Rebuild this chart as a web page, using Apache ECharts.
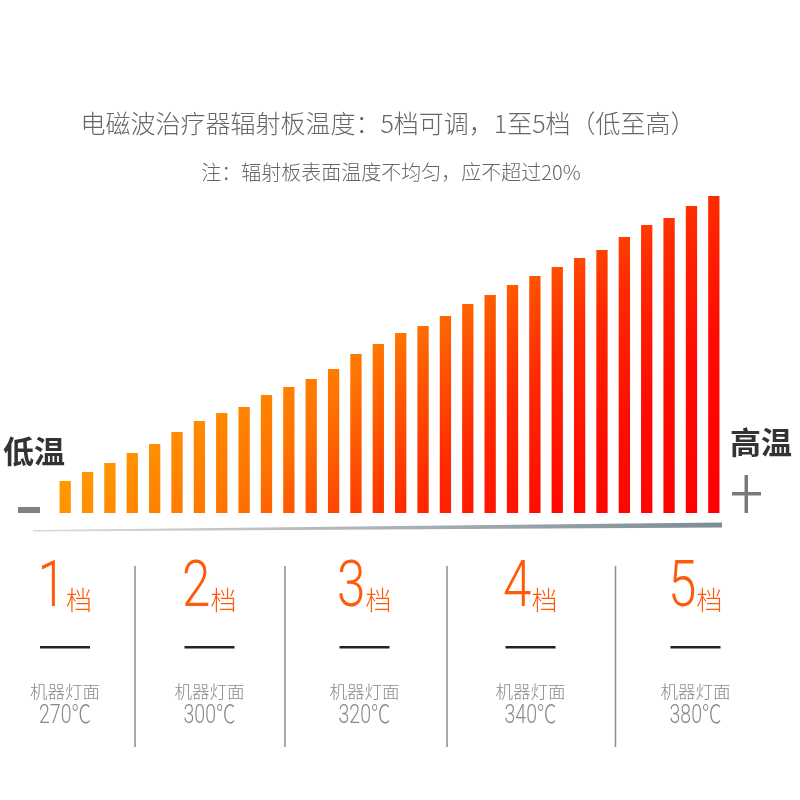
<!DOCTYPE html>
<html>
<head>
<meta charset="utf-8">
<script src="https://cdn.jsdelivr.net/npm/echarts@6/dist/echarts.min.js"></script>
<style>html,body{margin:0;padding:0;background:#fff;}#c{width:800px;height:800px;}</style>
</head>
<body>
<div id="c"></div>
<script>
const categories = ['1','2','3','4','5','6','7','8','9','10','11','12','13','14','15','16','17','18','19','20','21','22','23','24','25','26','27','28','29','30'];
const barValues = [32,41,50,60,69,81,92,100,106,118,126,134,144,159,169,180,187,197,209,218,228,237,246,255,263,276,288,295,307,317];
const titleText = '电磁波治疗器辐射板温度：5档可调，1至5档（低至高）';
const noteText = '注：辐射板表面温度不均匀，应不超过20%';
const lowLabel = '低温';
const highLabel = '高温';
const gearLabels = ['1','2','3','4','5'];
const gearUnit = '档';
const faceLabel = '机器灯面';
const faceTemps = ['270℃','300℃','320℃','340℃','380℃'];

const CJK = '"Noto Sans CJK SC", "Noto Sans", sans-serif';
const NUM = 'Roboto, "Noto Sans CJK SC", sans-serif';
const colCenters = [65, 209.5, 364.5, 530.5, 695.5];
const sepX = [135, 285, 447, 615.5];

const chart = echarts.init(document.getElementById('c'), null, {renderer: 'canvas'});

const barColor = new echarts.graphic.LinearGradient(273, 273, 613, 613, [
  {offset: 0, color: '#ff9a00'},
  {offset: 0.275, color: '#ff7400'},
  {offset: 0.4, color: '#ff5000'},
  {offset: 0.537, color: '#ff2a00'},
  {offset: 0.75, color: '#ff0a00'},
  {offset: 1, color: '#ff0000'}
], true);

const graphics = [];
graphics.push({type: 'text', style: {text: titleText, x: 388, y: 123, textAlign: 'center', textVerticalAlign: 'middle', fontSize: 25, fontFamily: CJK, fontWeight: 300, fill: '#666'}});
graphics.push({type: 'text', style: {text: noteText, x: 391, y: 172, textAlign: 'center', textVerticalAlign: 'middle', fontSize: 20, fontFamily: CJK, fontWeight: 300, fill: '#666'}});
graphics.push({type: 'text', style: {text: lowLabel, x: 3, y: 451, textAlign: 'left', textVerticalAlign: 'middle', fontSize: 31, fontFamily: CJK, fontWeight: 'bold', fill: '#333'}});
graphics.push({type: 'text', style: {text: highLabel, x: 730, y: 442, textAlign: 'left', textVerticalAlign: 'middle', fontSize: 31, fontFamily: CJK, fontWeight: 'bold', fill: '#333'}});
// minus sign
graphics.push({type: 'rect', shape: {x: 18, y: 507, width: 22, height: 6}, style: {fill: '#808080'}});
// plus sign
graphics.push({type: 'rect', shape: {x: 732, y: 492, width: 29, height: 3.5}, style: {fill: '#7a7a7a'}});
graphics.push({type: 'rect', shape: {x: 744.5, y: 475, width: 3.5, height: 38}, style: {fill: '#7a7a7a'}});
// base line (wedge)
graphics.push({type: 'polygon', shape: {points: [[33, 530], [722, 522.5], [722, 527.5], [33, 531.5]]},
  style: {fill: new echarts.graphic.LinearGradient(0, 0, 1, 0, [{offset: 0, color: '#d9dcde'}, {offset: 1, color: '#7c8c95'}])}});
// separators
sepX.forEach(x => {
  graphics.push({type: 'line', shape: {x1: x, y1: 566, x2: x, y2: 747}, style: {stroke: '#8c8c8c', lineWidth: 1.5}});
});
colCenters.forEach((c, i) => {
  graphics.push({type: 'text', x: c + 1, y: 590, scaleX: 0.8,
    style: {text: gearLabels[i], x: 0, y: 0, textAlign: 'right', textVerticalAlign: 'middle', fontSize: 64, fontFamily: NUM, fontWeight: 300, fill: '#ff5a0a'}});
  graphics.push({type: 'text', style: {text: gearUnit, x: c + 1, y: 600, textAlign: 'left', textVerticalAlign: 'middle', fontSize: 26, fontFamily: CJK, fontWeight: 300, fill: '#ff5a0a'}});
  graphics.push({type: 'rect', shape: {x: c - 25, y: 646, width: 50, height: 2.5}, style: {fill: '#222'}});
  graphics.push({type: 'text', style: {text: faceLabel, x: c, y: 691, textAlign: 'center', textVerticalAlign: 'middle', fontSize: 17.5, fontFamily: CJK, fontWeight: 300, fill: '#888'}});
  graphics.push({type: 'text', x: c, y: 717, scaleX: 0.78,
    style: {text: faceTemps[i], x: 0, y: 0, textAlign: 'center', textVerticalAlign: 'middle', fontSize: 25, fontFamily: NUM, fontWeight: 300, fill: '#888'}});
});

chart.setOption({
  backgroundColor: '#ffffff',
  animation: false,
  grid: {left: 54, right: 75, top: 193, bottom: 287},
  xAxis: {type: 'category', data: categories, axisLine: {show: false}, axisTick: {show: false}, axisLabel: {show: false}, splitLine: {show: false}},
  yAxis: {type: 'value', min: 0, max: 320, show: false, splitLine: {show: false}},
  series: [{type: 'bar', data: barValues, barWidth: 11.3, itemStyle: {color: barColor}}],
  graphic: graphics
});
</script>
</body>
</html>
